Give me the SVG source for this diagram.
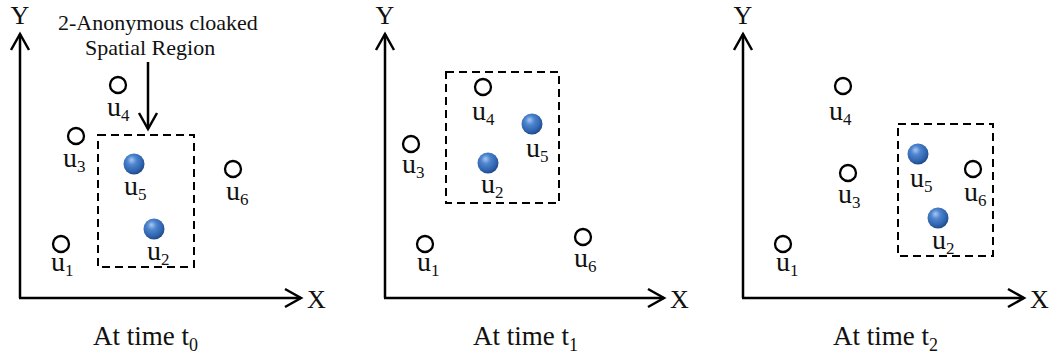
<svg xmlns="http://www.w3.org/2000/svg" width="1053" height="358" viewBox="0 0 1053 358">
<style>
text{font-family:"Liberation Serif","Times New Roman",serif;fill:#111}
.lbl{font-size:28px}
.sub{font-size:17px}
.cap{font-size:27px}
.csub{font-size:18px}
.ax{font-size:26px}
.ann{font-size:22px}
.axis{stroke:#000;stroke-width:2.5;fill:none}
.open{fill:#fff;stroke:#000;stroke-width:2.3}
.ball{fill:url(#sphere)}
.region{fill:none;stroke:#000;stroke-width:2;stroke-dasharray:8 5}
</style>
<defs>
<radialGradient id="sphere" cx="0.42" cy="0.38" r="0.62" fx="0.38" fy="0.3">
<stop offset="0" stop-color="#a9c8f0"/>
<stop offset="0.35" stop-color="#4f86d0"/>
<stop offset="0.8" stop-color="#2e62ad"/>
<stop offset="1" stop-color="#1f4a88"/>
</radialGradient>
<marker id="chev" markerUnits="userSpaceOnUse" markerWidth="24" markerHeight="24" viewBox="-20 -12 24 24" refX="0" refY="0" orient="auto" overflow="visible">
<path d="M-16,-9 L0,0 L-16,9" fill="none" stroke="#000" stroke-width="2.5" stroke-linejoin="miter"/>
</marker>
</defs>

<!-- Panel 1 -->
<g id="panel-t0">
<g id="axes-t0">
<line class="axis" x1="20" y1="298" x2="20" y2="34" marker-end="url(#chev)"/>
<line class="axis" x1="19" y1="298" x2="301" y2="298" marker-end="url(#chev)"/>
<text class="ax" x="20" y="24" text-anchor="middle">Y</text>
<text class="ax" x="307" y="308">X</text>
</g>
<rect id="region-t0" class="region" x="98" y="135" width="96" height="132"/>
<g id="t0-u4"><circle class="open" cx="118" cy="85" r="8"/><text class="lbl" x="107" y="116">u<tspan class="sub" dy="5">4</tspan></text></g>
<g id="t0-u3"><circle class="open" cx="76" cy="136" r="8"/><text class="lbl" x="63" y="167">u<tspan class="sub" dy="5">3</tspan></text></g>
<g id="t0-u5"><circle class="ball" cx="134" cy="164" r="10.5"/><text class="lbl" x="124" y="195">u<tspan class="sub" dy="5">5</tspan></text></g>
<g id="t0-u6"><circle class="open" cx="233" cy="169" r="8"/><text class="lbl" x="226" y="200">u<tspan class="sub" dy="5">6</tspan></text></g>
<g id="t0-u2"><circle class="ball" cx="154" cy="229" r="10.5"/><text class="lbl" x="147" y="260">u<tspan class="sub" dy="5">2</tspan></text></g>
<g id="t0-u1"><circle class="open" cx="61" cy="244" r="8"/><text class="lbl" x="51" y="271">u<tspan class="sub" dy="5">1</tspan></text></g>
<g id="annotation">
<text class="ann" x="58" y="30">2-Anonymous cloaked</text>
<text class="ann" x="85" y="55">Spatial Region</text>
</g>
<text class="cap" x="93" y="345">At time t<tspan class="csub" dy="6">0</tspan></text>
</g>

<!-- Panel 2 -->
<g id="panel-t1">
<g id="axes-t1">
<line class="axis" x1="385" y1="298" x2="385" y2="34" marker-end="url(#chev)"/>
<line class="axis" x1="384" y1="298" x2="664" y2="298" marker-end="url(#chev)"/>
<text class="ax" x="385" y="24" text-anchor="middle">Y</text>
<text class="ax" x="670" y="308">X</text>
</g>
<rect id="region-t1" class="region" x="446" y="72" width="113" height="131"/>
<g id="t1-u4"><circle class="open" cx="483" cy="87" r="8"/><text class="lbl" x="472" y="120">u<tspan class="sub" dy="5">4</tspan></text></g>
<g id="t1-u5"><circle class="ball" cx="532" cy="124" r="10.5"/><text class="lbl" x="526" y="157">u<tspan class="sub" dy="5">5</tspan></text></g>
<g id="t1-u3"><circle class="open" cx="411" cy="144" r="8"/><text class="lbl" x="402" y="173">u<tspan class="sub" dy="5">3</tspan></text></g>
<g id="t1-u2"><circle class="ball" cx="488" cy="163" r="10.5"/><text class="lbl" x="481" y="193">u<tspan class="sub" dy="5">2</tspan></text></g>
<g id="t1-u1"><circle class="open" cx="425" cy="244" r="8"/><text class="lbl" x="417" y="271">u<tspan class="sub" dy="5">1</tspan></text></g>
<g id="t1-u6"><circle class="open" cx="583" cy="237" r="8"/><text class="lbl" x="574" y="267">u<tspan class="sub" dy="5">6</tspan></text></g>
<text class="cap" x="473" y="345">At time t<tspan class="csub" dy="6">1</tspan></text>
</g>

<!-- Panel 3 -->
<g id="panel-t2">
<g id="axes-t2">
<line class="axis" x1="743" y1="298" x2="743" y2="34" marker-end="url(#chev)"/>
<line class="axis" x1="742" y1="298" x2="1024" y2="298" marker-end="url(#chev)"/>
<text class="ax" x="743" y="24" text-anchor="middle">Y</text>
<text class="ax" x="1030" y="308">X</text>
</g>
<rect id="region-t2" class="region" x="898" y="124" width="95" height="132"/>
<g id="t2-u4"><circle class="open" cx="843" cy="86" r="8"/><text class="lbl" x="829" y="120">u<tspan class="sub" dy="5">4</tspan></text></g>
<g id="t2-u3"><circle class="open" cx="848" cy="173" r="8"/><text class="lbl" x="838" y="203">u<tspan class="sub" dy="5">3</tspan></text></g>
<g id="t2-u5"><circle class="ball" cx="918" cy="154" r="10.5"/><text class="lbl" x="910" y="187">u<tspan class="sub" dy="5">5</tspan></text></g>
<g id="t2-u6"><circle class="open" cx="973" cy="169" r="8"/><text class="lbl" x="964" y="201">u<tspan class="sub" dy="5">6</tspan></text></g>
<g id="t2-u2"><circle class="ball" cx="938" cy="218" r="10.5"/><text class="lbl" x="932" y="249">u<tspan class="sub" dy="5">2</tspan></text></g>
<g id="t2-u1"><circle class="open" cx="783" cy="244" r="8"/><text class="lbl" x="776" y="271">u<tspan class="sub" dy="5">1</tspan></text></g>
<text class="cap" x="833" y="345">At time t<tspan class="csub" dy="6">2</tspan></text>
</g>

<g id="connectors">
<line class="axis" x1="148" y1="62" x2="148" y2="129" marker-end="url(#chev)"/>
</g>
</svg>
